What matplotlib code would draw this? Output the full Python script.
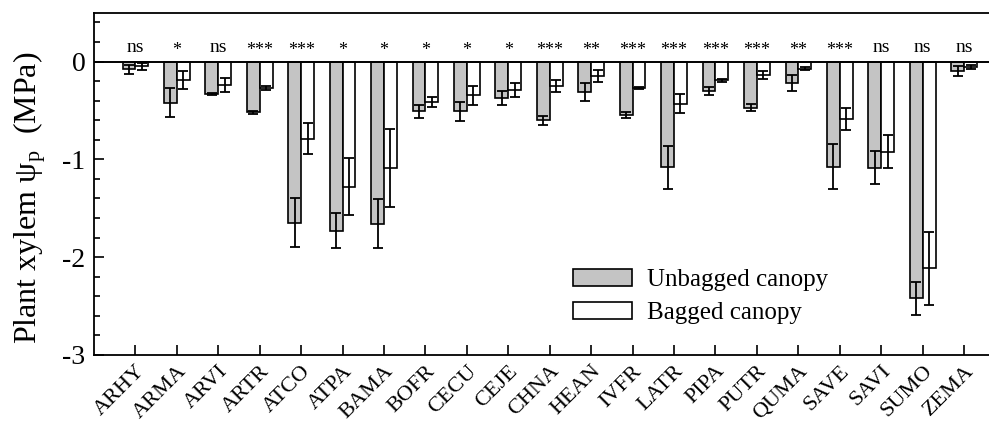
import numpy as np
import matplotlib
matplotlib.use("Agg")
import matplotlib.pyplot as plt
from matplotlib.ticker import MultipleLocator

plt.rcParams['font.family'] = ['Liberation Serif', 'DejaVu Serif']
plt.rcParams['axes.unicode_minus'] = False
plt.rcParams['mathtext.fontset'] = 'custom'
plt.rcParams['mathtext.rm'] = 'Liberation Serif'
plt.rcParams['mathtext.it'] = 'Liberation Serif:italic'

# species codes
species = ['ARHY', 'ARMA', 'ARVI', 'ARTR', 'ATCO', 'ATPA', 'BAMA', 'BOFR', 'CECU', 'CEJE', 'CHNA',
           'HEAN', 'IVFR', 'LATR', 'PIPA', 'PUTR', 'QUMA', 'SAVE', 'SAVI', 'SUMO', 'ZEMA']

# plant xylem pressure (MPa)
unbagged = [-0.08, -0.42, -0.33, -0.52, -1.65, -1.73, -1.66, -0.51, -0.51, -0.375, -0.60,
            -0.31, -0.55, -1.08, -0.30, -0.47, -0.22, -1.075, -1.085, -2.42, -0.10]
unbagged_err = [0.05, 0.15, 0.01, 0.015, 0.25, 0.18, 0.25, 0.07, 0.095, 0.07, 0.045,
                0.093, 0.03, 0.22, 0.045, 0.04, 0.08, 0.23, 0.17, 0.17, 0.05]
bagged = [-0.05, -0.19, -0.24, -0.27, -0.79, -1.28, -1.09, -0.41, -0.345, -0.29, -0.25,
          -0.145, -0.27, -0.43, -0.19, -0.135, -0.074, -0.585, -0.92, -2.115, -0.057]
bagged_err = [0.04, 0.09, 0.07, 0.02, 0.16, 0.29, 0.40, 0.05, 0.10, 0.07, 0.06,
              0.06, 0.015, 0.10, 0.015, 0.04, 0.015, 0.11, 0.17, 0.37, 0.02]
signif = ['ns', '*', 'ns', '***', '***', '*', '*', '*', '*', '*', '***',
          '**', '***', '***', '***', '***', '**', '***', 'ns', 'ns', 'ns']

x = np.arange(len(species))
w = 0.31

fig = plt.figure(figsize=(9.89, 4.24), dpi=100)
ax = fig.add_axes([0.095, 0.163, 0.91, 0.807])

err_kw = dict(ecolor='black', elinewidth=1.3, capsize=3.8, capthick=1.3)
ax.bar(x - w / 2, unbagged, w, yerr=unbagged_err, color='#c4c4c4', edgecolor='black',
       linewidth=1.2, error_kw=err_kw, label='Unbagged canopy', zorder=2)
ax.bar(x + w / 2, bagged, w, yerr=bagged_err, color='white', edgecolor='black',
       linewidth=1.2, error_kw=err_kw, label='Bagged canopy', zorder=2)

ax.axhline(0, color='black', linewidth=1.4, zorder=3)

for xi, s in zip(x, signif):
    if s == 'ns':
        ax.text(xi, 0.145, s, ha='center', va='center', fontsize=14)
    else:
        ax.text(xi, 0.115, s, ha='center', va='center', fontsize=13)

ax.set_xlim(-1, 20.72)
ax.set_ylim(-3, 0.5)
ax.set_xticks(x)
ax.set_xticklabels(species, rotation=45, ha='right', va='top', rotation_mode='anchor', fontsize=16)
ax.set_yticks([0, -1, -2, -3])
ax.set_yticklabels(['0', '-1', '-2', '-3'], fontsize=20)
ax.yaxis.set_minor_locator(MultipleLocator(0.2))
ax.tick_params(axis='both', which='major', direction='in', length=7, width=1.2)
ax.tick_params(axis='y', which='minor', direction='in', length=4.5, width=1.2)
ax.tick_params(axis='x', which='major', pad=5)
ax.tick_params(axis='y', which='major', pad=6)
ax.spines['right'].set_visible(False)
for sp in ['left', 'top', 'bottom']:
    ax.spines[sp].set_linewidth(1.3)

fig.text(30 / 989, 1 - 198 / 424, r'Plant xylem ψ$_\mathrm{p}$  (MPa)', rotation=90,
         ha='center', va='center', fontsize=23)

ax.legend(loc='upper left', bbox_to_anchor=(0.579, 0.366), bbox_transform=fig.transFigure,
          frameon=False, fontsize=18, handlelength=2.36, handleheight=0.68,
          handletextpad=0.6, labelspacing=0.42, borderpad=0, borderaxespad=0)

fig.savefig('out.png', dpi=100)
